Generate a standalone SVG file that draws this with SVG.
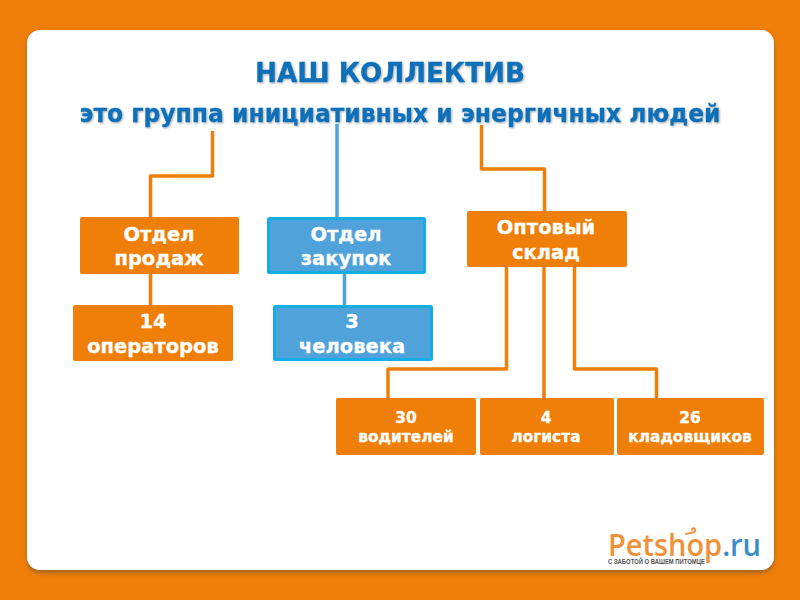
<svg xmlns="http://www.w3.org/2000/svg" width="800" height="600" viewBox="0 0 800 600">
<defs>
<filter id="sh" x="-5%" y="-5%" width="110%" height="110%"><feGaussianBlur stdDeviation="2"/></filter>
<filter id="ts" x="-5%" y="-20%" width="110%" height="140%"><feDropShadow dx="1" dy="1" stdDeviation="1" flood-color="#000" flood-opacity="0.35"/></filter>
</defs>
<style>
.o{fill:#f07f09}
.b{fill:#4fa3da;stroke:#14ade8;stroke-width:3}
.lo{fill:none;stroke:#f07f09;stroke-width:3.5;stroke-linejoin:round}
.lb{fill:none;stroke:#4fa3da;stroke-width:3.5}
text{font-family:"DejaVu Sans","Liberation Sans",sans-serif;font-weight:700;text-anchor:middle}
.n{fill:#fff;font-size:19.500px;stroke:#fff;stroke-width:.3}
.s{fill:#fff;font-size:15.400px;stroke:#fff;stroke-width:.3}
.h{fill:#0f6fb9;filter:url(#ts);stroke:#0f6fb9;stroke-width:.3}
.lg{text-anchor:start;font-family:"Open Sans","Liberation Sans",sans-serif;font-weight:600}
</style>
<rect width="800" height="600" fill="#f07f09"/>
<rect x="27" y="32" width="747" height="541" rx="13" fill="#8a5a2a" opacity="0.75" filter="url(#sh)"/>
<rect x="27" y="30" width="747" height="540" rx="13" fill="#fff"/>
<g id="title">
<text class="h" x="390" y="82" font-size="26" textLength="270" lengthAdjust="spacingAndGlyphs">НАШ КОЛЛЕКТИВ</text>
<text class="h" x="400" y="122" font-size="24.500" textLength="641" lengthAdjust="spacingAndGlyphs">это группа инициативных и энергичных людей</text>
</g>
<g id="connectors">
<path class="lo" d="M212.500 131V176H150.500V218"/>
<path class="lb" d="M337 124V218"/>
<path class="lo" d="M481.500 125V169H544.500V211"/>
<path class="lo" d="M150.500 273V306"/>
<path class="lb" d="M344.500 273V306"/>
<path class="lo" d="M506.500 267V369H388V399"/>
<path class="lo" d="M544 267V399"/>
<path class="lo" d="M574.500 267V369H656.500V399"/>
</g>
<g id="n1"><rect class="o" x="80" y="217" width="159" height="57" rx="2"/><text class="n" x="159" y="241">Отдел</text><text class="n" x="159" y="265">продаж</text></g>
<g id="n2"><rect class="b" x="268.500" y="218.500" width="156" height="54" rx="1"/><text class="n" x="346" y="241">Отдел</text><text class="n" x="346" y="265">закупок</text></g>
<g id="n3"><rect class="o" x="467" y="211" width="160" height="56" rx="2"/><text class="n" x="546" y="234">Оптовый</text><text class="n" x="546" y="259">склад</text></g>
<g id="n4"><rect class="o" x="73" y="305" width="160" height="56" rx="2"/><text class="n" x="153" y="328">14</text><text class="n" x="153" y="353">операторов</text></g>
<g id="n5"><rect class="b" x="274.500" y="306.500" width="157" height="53" rx="1"/><text class="n" x="352" y="328">3</text><text class="n" x="352" y="353">человека</text></g>
<g id="n6"><rect class="o" x="336" y="398" width="140" height="57" rx="2"/><text class="s" x="406" y="423">30</text><text class="s" x="406" y="442">водителей</text></g>
<g id="n7"><rect class="o" x="480" y="398" width="134" height="57" rx="2"/><text class="s" x="546" y="423">4</text><text class="s" x="546" y="442">логиста</text></g>
<g id="n8"><rect class="o" x="617" y="398" width="147" height="57" rx="2"/><text class="s" x="690" y="423">26</text><text class="s" x="690" y="442">кладовщиков</text></g>
<g id="logo">
<text class="lg" x="608" y="556" font-size="30" fill="#f0923a" textLength="153" lengthAdjust="spacingAndGlyphs">Petshop<tspan fill="#3a8ec8">.ru</tspan></text>
<path d="M686 534c3-2 8 0 9-3s-3-4-3-1" fill="none" stroke="#f0923a" stroke-width="2" stroke-linecap="round"/>
<text class="lg" x="608" y="564" font-size="6.500" fill="#555" textLength="97" lengthAdjust="spacingAndGlyphs" style="font-family:'Liberation Sans',sans-serif;font-weight:700">С ЗАБОТОЙ О ВАШЕМ ПИТОМЦЕ</text>
</g>
</svg>
